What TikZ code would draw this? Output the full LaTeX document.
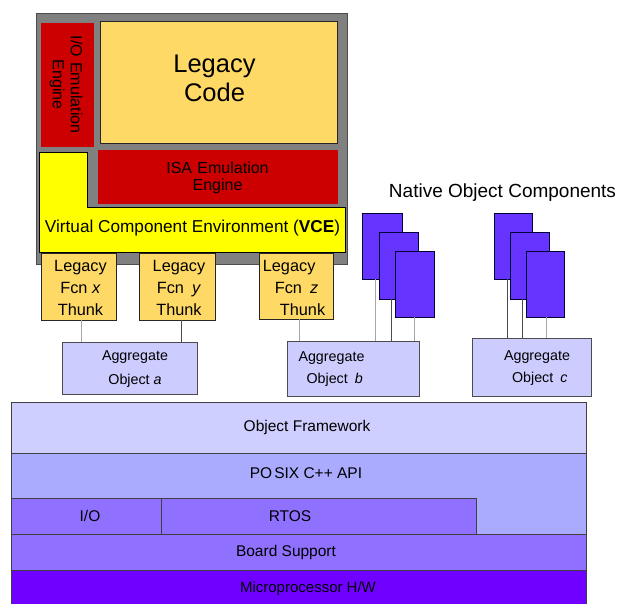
\documentclass[tikz,border=0pt]{standalone}
\usepackage{fontspec}
\setmainfont{Liberation Sans}
\begin{document}
\begin{tikzpicture}[x=1pt,y=-1pt,
  box/.style={draw=#1, line width=0.8pt, inner sep=0pt, outer sep=0pt},
  box/.default={black!85},
  fz/.style={font=\fontsize{#1}{#1}\selectfont},
  thunkbox/.style={box, fill=legacyc, minimum width=#1, minimum height=67},
  aggbox/.style={box=black!70, fill=aggc},
  native/.style={box={black!80!blue}, fill=nativec, minimum width=39, minimum height=66},
  layer/.style={box=black!75, fill=#1, anchor=north west},
  lbl/.style={inner sep=0pt, align=center, fz=15.5},
  lightlink/.style={draw=black!35, line width=0.9pt},
  darklink/.style={draw=black!70, line width=0.9pt}]
\definecolor{grayc}{HTML}{808080}
\definecolor{legacyc}{HTML}{FFD966}
\definecolor{redc}{HTML}{CC0000}
\definecolor{vcec}{HTML}{FFFF00}
\definecolor{aggc}{HTML}{CCCCFF}
\definecolor{nativec}{HTML}{6633FF}
\definecolor{ofc}{HTML}{CFCFFF}
\definecolor{posixc}{HTML}{AAAAFF}
\definecolor{midc}{HTML}{9070FF}
\definecolor{mpc}{HTML}{7000FF}
\useasboundingbox (0,0) rectangle (620,603);
\begin{scope}
\clip (0,0) rectangle (620,603);

% ---------- virtual component environment ----------
\node[box=black!70, fill=grayc, minimum width=311, minimum height=251] (vm) at (191.5,138.5) {};
\node[box=redc, fill=redc, minimum width=52, minimum height=123] (ioe) at (67,84.5) {};
\node[lbl, fz=16, rotate=-90, text width=110] at (66,84.5) {I/O Emulation\\[2pt]Engine};
\node[box, fill=legacyc, minimum width=237, minimum height=122] (legacy) at (218.5,82) {};
\node[lbl, fz=25.5, text width=200] at (214.5,78) {Legacy\\[3.5pt]Code};
\node[box=redc, fill=redc, minimum width=239, minimum height=53] (isa) at (217.5,176.5) {};
\node[lbl, fz=16, text width=200] at (217.5,177.5) {ISA Emulation\\[1pt]Engine};
\draw[fill=vcec, line width=0.9pt, draw=black]
  (39,152) -- (87,152) -- (87,207) -- (345,207) -- (345,252) -- (39,252) -- cycle;
\node[lbl, fz=17.2] (vce) at (192.5,228.5) {Virtual Component Environment (\textbf{VCE})};

% ---------- thunks ----------
\node[thunkbox=75] (thx) at (78.5,286.5) {};
\node[lbl, fz=16.3] at (80.5,288) {Legacy\\[5.5pt]Fcn \textit{x}\\[5.5pt]Thunk};
\node[thunkbox=76] (thy) at (177,286.5) {};
\node[lbl, fz=16.3] at (179,288) {Legacy\\[5.5pt]Fcn\enspace\textit{y}\\[5.5pt]Thunk};
\node[thunkbox=74, minimum height=66] (thz) at (296,286) {};
\node[lbl, fz=16.3, align=left] at (294,288) {Legacy\\[5.5pt]\hspace*{12pt}Fcn\enspace\textit{z}\\[5.5pt]\hspace*{17pt}Thunk};

% ---------- aggregate objects ----------
\node[aggbox, minimum width=135, minimum height=52] (agga) at (129.5,368) {};
\node[lbl, fz=14.3] at (135,369) {Aggregate\\[10pt]Object \textit{a}};
\node[aggbox, minimum width=132, minimum height=55] (aggb) at (353,368.5) {};
\node[lbl, fz=14.3, align=left] at (331.5,369) {Aggregate\\[7pt]\hspace*{8pt}Object\enspace\textit{b}};
\node[aggbox, minimum width=119, minimum height=58] (aggc) at (531.5,367) {};
\node[lbl, fz=14.3, align=left] at (537,368) {Aggregate\\[7pt]\hspace*{8pt}Object\enspace\textit{c}};

% ---------- native object components ----------
\node[lbl, fz=19] (nattitle) at (502.5,193) {Native Object Components};
\node[native, minimum width=40] (nb1) at (382,246) {};
\node[native, minimum height=67] (nb2) at (398.5,265.5) {};
\node[native] (nb3) at (414.5,284) {};
\node[native, minimum width=38] (nc1) at (513,246) {};
\node[native, minimum height=67] (nc2) at (529.5,265.5) {};
\node[native, minimum width=38] (nc3) at (545,284) {};

% ---------- links to aggregate objects ----------
\draw[lightlink] ([xshift=2.5pt]thx.south) -- ([xshift=2.5pt]thx.south |- agga.north);
\draw[darklink]  ([xshift=4pt]thy.south) -- ([xshift=4pt]thy.south |- agga.north);
\draw[lightlink] ([xshift=3pt]thz.south) -- ([xshift=3pt]thz.south |- aggb.north);
\draw[lightlink] ([xshift=-7pt]nb1.south) -- ([xshift=-7pt]nb1.south |- aggb.north);
\draw[darklink]  ([xshift=-7.5pt]nb2.south) -- ([xshift=-7.5pt]nb2.south |- aggb.north);
\draw[lightlink] ([xshift=-0.5pt]nb3.south) -- ([xshift=-0.5pt]nb3.south |- aggb.north);
\draw[darklink]  ([xshift=-6pt]nc1.south) -- ([xshift=-6pt]nc1.south |- aggc.north);
\draw[darklink]  ([xshift=-7.5pt]nc2.south) -- ([xshift=-7.5pt]nc2.south |- aggc.north);
\draw[lightlink] ([xshift=1pt]nc3.south) -- ([xshift=1pt]nc3.south |- aggc.north);

% ---------- platform layers ----------
\node[layer=ofc, minimum width=575, minimum height=51] (of) at (11,402) {};
\node[lbl] at (307,427) {Object Framework};
\node[layer=posixc, minimum width=575, minimum height=81] (posix) at (11,453) {};
\node[lbl] at (306,473) {PO\kern2pt SIX C++ API};
\node[layer=midc, minimum width=150, minimum height=36] (io) at (11,498) {};
\node[lbl] at (90,516) {I/O};
\node[layer=midc, minimum width=315, minimum height=36] (rtos) at (161,498) {};
\node[lbl] at (290,516) {RTOS};
\node[layer=midc, minimum width=575, minimum height=36] (bsp) at (11,534) {};
\node[lbl] at (286,552) {Board Support};
\node[layer=mpc, minimum width=575, minimum height=45] (mp) at (11,570) {};
\node[lbl, fz=15] at (308,589) {Microprocessor H/W};
\end{scope}
\end{tikzpicture}
\end{document}
